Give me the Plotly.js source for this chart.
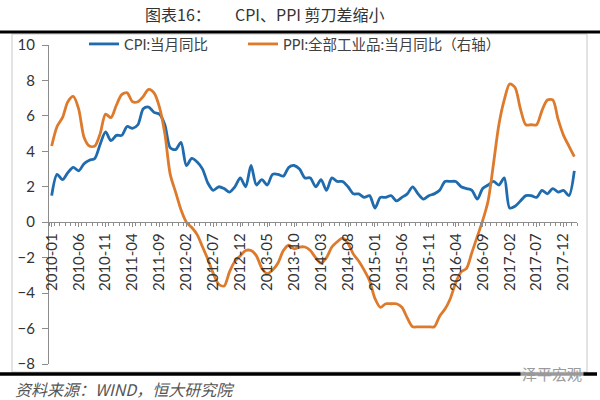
<!DOCTYPE html>
<html>
<head>
<meta charset="utf-8">
<script src="https://cdn.plot.ly/plotly-3.0.1.min.js"></script>
<style>html,body{margin:0;padding:0;background:#fff;}#chart{width:600px;height:400px;}</style>
</head>
<body>
<div id="chart"></div>
<script>
const months = [
"2010-01","2010-02","2010-03","2010-04","2010-05","2010-06","2010-07","2010-08","2010-09","2010-10","2010-11","2010-12",
"2011-01","2011-02","2011-03","2011-04","2011-05","2011-06","2011-07","2011-08","2011-09","2011-10","2011-11","2011-12",
"2012-01","2012-02","2012-03","2012-04","2012-05","2012-06","2012-07","2012-08","2012-09","2012-10","2012-11","2012-12",
"2013-01","2013-02","2013-03","2013-04","2013-05","2013-06","2013-07","2013-08","2013-09","2013-10","2013-11","2013-12",
"2014-01","2014-02","2014-03","2014-04","2014-05","2014-06","2014-07","2014-08","2014-09","2014-10","2014-11","2014-12",
"2015-01","2015-02","2015-03","2015-04","2015-05","2015-06","2015-07","2015-08","2015-09","2015-10","2015-11","2015-12",
"2016-01","2016-02","2016-03","2016-04","2016-05","2016-06","2016-07","2016-08","2016-09","2016-10","2016-11","2016-12",
"2017-01","2017-02","2017-03","2017-04","2017-05","2017-06","2017-07","2017-08","2017-09","2017-10","2017-11","2017-12",
"2018-01","2018-02"];

const cpi = [
1.5,2.7,2.4,2.8,3.1,2.9,3.3,3.5,3.6,4.4,5.1,4.6,
4.9,4.9,5.4,5.3,5.5,6.4,6.5,6.2,6.1,5.5,4.2,4.1,
4.5,3.2,3.6,3.4,3.0,2.2,1.8,2.0,1.9,1.7,2.0,2.5,
2.0,3.2,2.1,2.4,2.1,2.7,2.7,2.6,3.1,3.2,3.0,2.5,
2.5,2.0,2.4,1.8,2.5,2.3,2.3,2.0,1.6,1.6,1.4,1.5,
0.8,1.4,1.4,1.5,1.2,1.4,1.6,2.0,1.6,1.3,1.5,1.6,
1.8,2.3,2.3,2.3,2.0,1.9,1.8,1.3,1.9,2.1,2.3,2.1,
2.5,0.8,0.9,1.2,1.5,1.5,1.4,1.8,1.6,1.9,1.7,1.8,
1.5,2.9];

const ppi = [
4.3,5.4,5.9,6.8,7.1,6.4,4.8,4.3,4.3,5.0,6.1,5.9,
6.6,7.2,7.3,6.8,6.8,7.1,7.5,7.3,6.5,5.0,2.7,1.7,
0.7,0.0,-0.3,-0.7,-1.4,-2.1,-2.9,-3.5,-3.6,-2.8,-2.2,-1.9,
-1.6,-1.6,-1.9,-2.6,-2.9,-2.7,-2.3,-1.6,-1.3,-1.5,-1.4,-1.4,
-1.6,-2.0,-2.3,-2.0,-1.4,-1.1,-0.9,-1.2,-1.8,-2.2,-2.7,-3.3,
-4.3,-4.8,-4.6,-4.6,-4.6,-4.8,-5.4,-5.9,-5.9,-5.9,-5.9,-5.9,
-5.3,-4.9,-4.3,-3.4,-2.8,-2.6,-1.7,-0.8,0.1,1.2,3.3,5.5,
6.9,7.8,7.6,6.4,5.5,5.5,5.5,6.3,6.9,6.9,5.8,4.9,
4.3,3.7];

const tickLabels = ["2010-01","2010-06","2010-11","2011-04","2011-09","2012-02","2012-07","2012-12",
"2013-05","2013-10","2014-03","2014-08","2015-01","2015-06","2015-11","2016-04","2016-09",
"2017-02","2017-07","2017-12"];

const seriesNames = ["CPI:当月同比", "PPI:全部工业品:当月同比（右轴）"];
const titleLeft = "图表16：";
const titleRight = "CPI、PPI 剪刀差缩小";
const sourceText = "资料来源：WIND，恒大研究院";
const watermark = "泽平宏观";

const xIdx = months.map((m, i) => i);
const tickVals = tickLabels.map(l => months.indexOf(l));

const fontFam = "Lato, 'Noto Sans CJK SC', sans-serif";
const cjkFam = "'Noto Sans CJK SC', sans-serif";

const traces = [
  {x: xIdx, y: cpi, name: seriesNames[0], type: 'scatter', mode: 'lines', legend: 'legend',
   line: {color: '#1F6BAD', width: 2.8, shape: 'spline', smoothing: 0.8}},
  {x: xIdx, y: ppi, name: seriesNames[1], type: 'scatter', mode: 'lines', legend: 'legend2',
   line: {color: '#DD7A2C', width: 2.8, shape: 'spline', smoothing: 0.8}}
];

// plot area: x 49..577, y 45..364
const L = 49, R = 577, T = 45, B = 364;
const px = v => (v - L) / (R - L);
const py = v => (B - v) / (B - T);

const legendBase = {orientation: 'h', xanchor: 'left', yanchor: 'middle', y: py(44),
  bgcolor: 'rgba(0,0,0,0)', font: {size: 14.5, color: '#404040', family: fontFam}};

const layout = {
  width: 600, height: 400,
  margin: {l: L, r: 600 - R, t: T, b: 400 - B},
  paper_bgcolor: '#fff', plot_bgcolor: 'rgba(0,0,0,0)',
  font: {family: fontFam, color: '#333', size: 13},
  showlegend: true,
  legend: Object.assign({}, legendBase, {x: px(84)}),
  legend2: Object.assign({}, legendBase, {x: px(243)}),
  xaxis: {type: 'linear', range: [-0.5, 97.5], anchor: 'free', position: 8/18,
          showline: true, linecolor: '#8c8c8c', linewidth: 1, showgrid: false, zeroline: false,
          tickmode: 'array', tickvals: tickVals, ticktext: tickLabels, tickangle: -90,
          ticks: 'outside', ticklen: 4, tickcolor: '#8c8c8c',
          minor: {ticks: 'outside', ticklen: 3, tick0: -0.5, dtick: 1, tickcolor: '#8c8c8c', showgrid: false},
          tickfont: {size: 15, color: '#333', family: fontFam}, fixedrange: true},
  yaxis: {range: [-8, 10], dtick: 2, tick0: 0, showline: true, linecolor: '#8c8c8c', linewidth: 1,
          showgrid: false, zeroline: false, ticks: 'outside', ticklen: 6, tickcolor: '#8c8c8c',
          ticklabelstandoff: 4,
          tickfont: {size: 15, color: '#333', family: fontFam}, fixedrange: true},
  shapes: [
    {type: 'rect', xref: 'paper', yref: 'paper', x0: px(12), x1: px(587), y0: py(372), y1: py(34),
     line: {color: '#c8c8c8', width: 1}, fillcolor: 'rgba(0,0,0,0)', layer: 'below'},
    {type: 'line', xref: 'paper', yref: 'paper', x0: px(0), x1: px(600), y0: py(32), y1: py(32),
     line: {color: '#000', width: 3}},
    {type: 'line', xref: 'paper', yref: 'paper', x0: px(0), x1: px(597), y0: py(374), y1: py(374),
     line: {color: '#000', width: 3.5}}
  ],
  annotations: [
    {text: titleLeft, xref: 'paper', yref: 'paper', x: px(143), y: py(14), xanchor: 'left', yanchor: 'middle',
     showarrow: false, font: {size: 16, color: '#333', family: cjkFam}},
    {text: titleRight, xref: 'paper', yref: 'paper', x: px(233), y: py(14), xanchor: 'left', yanchor: 'middle',
     showarrow: false, font: {size: 16, color: '#333', family: cjkFam}},
    {text: '<i>' + sourceText + '</i>', xref: 'paper', yref: 'paper', x: px(13), y: py(389), xanchor: 'left', yanchor: 'middle',
     showarrow: false, font: {size: 16, color: '#555', family: cjkFam}},
    {text: watermark, xref: 'paper', yref: 'paper', x: px(552), y: py(373), xanchor: 'center', yanchor: 'middle',
     showarrow: false, bgcolor: 'rgba(255,255,255,0.6)',
     font: {size: 15, color: '#9a9a9a', family: cjkFam}}
  ]
};

Plotly.newPlot('chart', traces, layout, {displayModeBar: false, staticPlot: true});
</script>
</body>
</html>
